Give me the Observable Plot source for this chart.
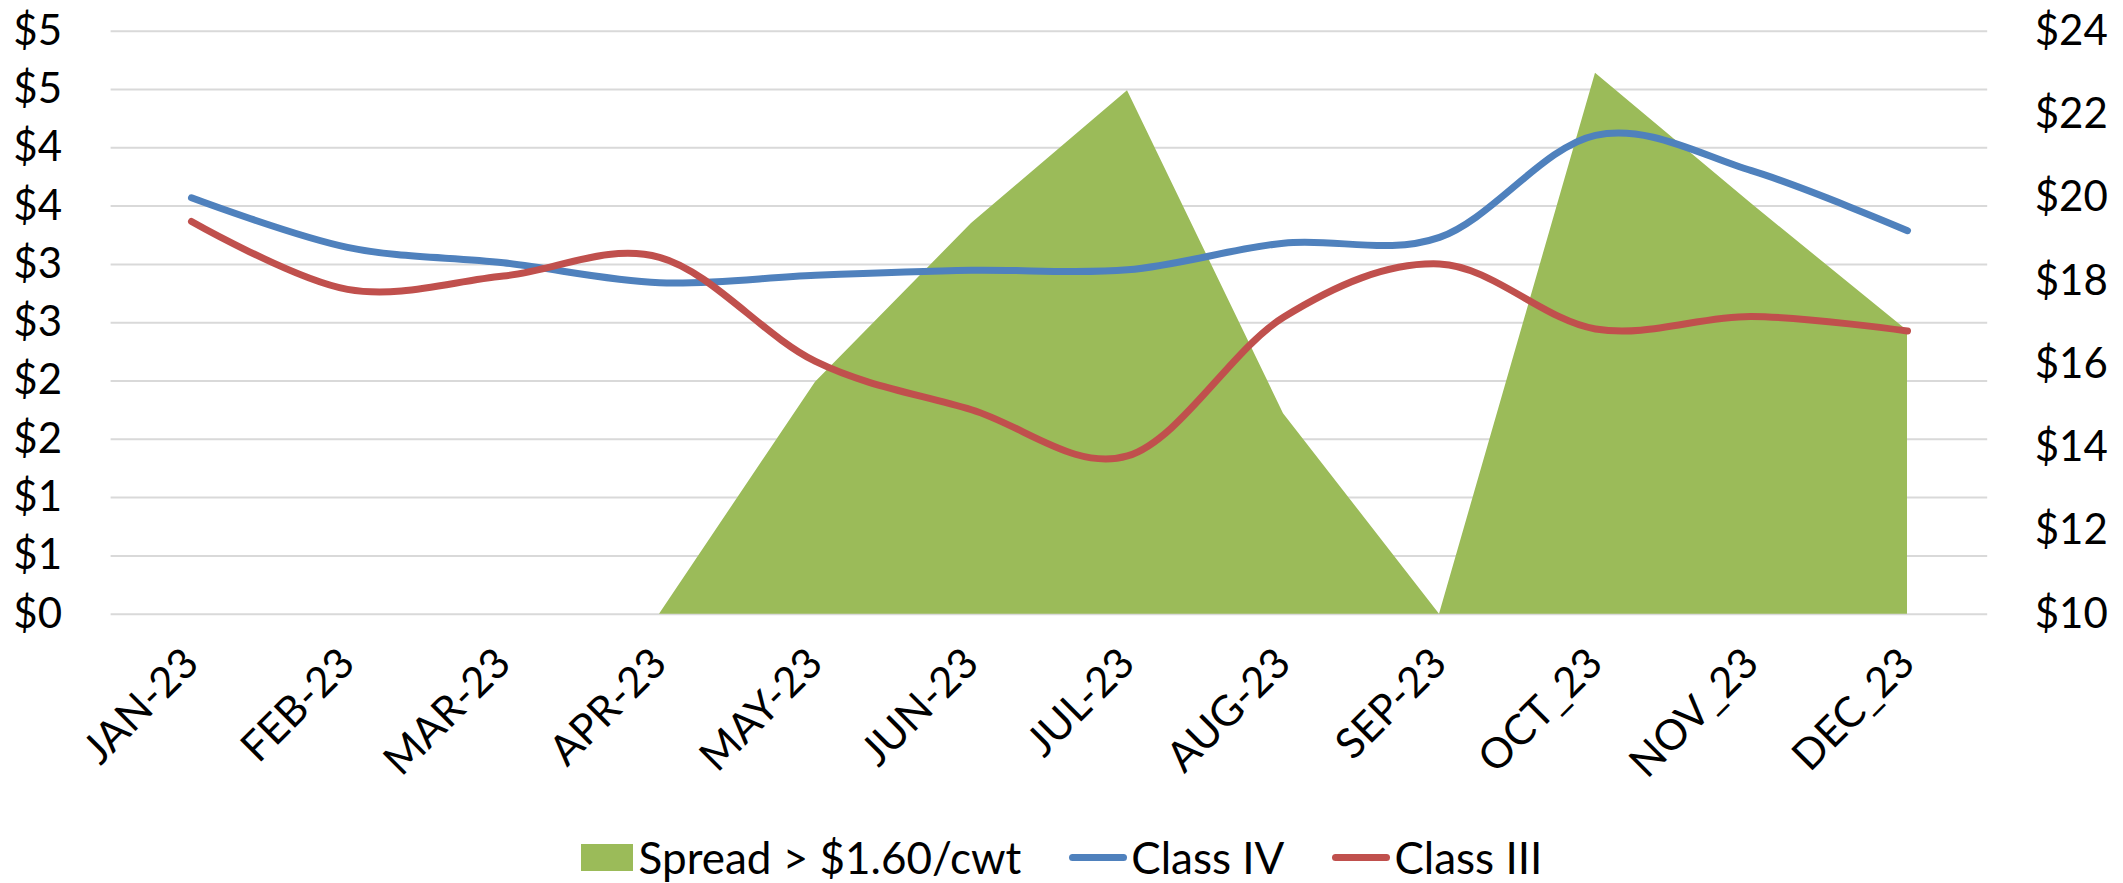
<!DOCTYPE html>
<html>
<head>
<meta charset="utf-8">
<script src="https://cdn.jsdelivr.net/npm/d3@7"></script>
<script src="https://cdn.jsdelivr.net/npm/@observablehq/plot@0.6"></script>
<style>
  html, body { margin: 0; padding: 0; background: #fff; }
  body { width: 2123px; height: 883px; overflow: hidden; font-family: Lato, "Open Sans", sans-serif; }
  #legend { height: 73px; box-sizing: border-box; padding-top: 21px; display: flex; justify-content: center; align-items: center; font-size: 44px; color: #000; }
  .item { display: flex; align-items: center; margin: 0 24px; }
  .sq { width: 52px; height: 27px; margin-right: 6px; }
  .ln { width: 58px; height: 7px; border-radius: 3.5px; margin-right: 4px; }
</style>
</head>
<body>
<div id="chart"></div>
<div id="legend"></div>
<script>
// ---- data ----
const months = ["JAN-23","FEB-23","MAR-23","APR-23","MAY-23","JUN-23","JUL-23","AUG-23","SEP-23","OCT_23","NOV_23","DEC_23"];
const spread = [0, 0, 0, 0, 1.99, 3.35, 4.49, 1.72, 0, 4.64, 3.52, 2.43];          // left axis
const classIV = [20.00, 18.81, 18.44, 17.96, 18.14, 18.26, 18.27, 18.91, 19.05, 21.50, 20.65, 19.21]; // right axis
const classIII = [19.43, 17.80, 18.12, 18.57, 16.07, 14.91, 13.80, 17.13, 18.41, 16.85, 17.15, 16.80]; // right axis
const leftTicks = [0, 0.5, 1, 1.5, 2, 2.5, 3, 3.5, 4, 4.5, 5];
const leftLabels = ["$0","$1","$1","$2","$2","$3","$3","$4","$4","$5","$5"];
const rightTicks = [10, 12, 14, 16, 18, 20, 22, 24];
const rightLabels = ["$10","$12","$14","$16","$18","$20","$22","$24"];
const seriesNames = ["Spread > $1.60/cwt", "Class IV", "Class III"];
const colors = ["#9BBB59", "#4F81BD", "#C0504D"];

// ---- dual axis mapping: right domain [10,24] onto left domain [0,5] ----
const rMin = 10, rMax = 24, lMax = 5;
const toLeft = v => (v - rMin) / (rMax - rMin) * lMax;

const rows = months.map((m, i) => ({month: m, spread: spread[i], classIV: classIV[i], classIII: classIII[i]}));
const leftMap = new Map(leftTicks.map((t, i) => [t, leftLabels[i]]));
const rightPos = rightTicks.map(toLeft);
const rightMap = new Map(rightPos.map((t, i) => [t, rightLabels[i]]));

const chart = Plot.plot({
  width: 2123,
  height: 810,
  marginLeft: 110.6,
  marginRight: 135.8,
  marginTop: 30.7,
  marginBottom: 196.3,
  style: {fontFamily: "Lato, 'Open Sans', sans-serif", fontSize: "42px", background: "#fff", color: "#000", overflow: "visible"},
  x: {type: "point", domain: months, padding: 0.5},
  y: {domain: [0, lMax]},
  marks: [
    Plot.ruleY(leftTicks, {stroke: "#D9D9D9", strokeWidth: 2, strokeOpacity: 1}),
    Plot.areaY(rows, {x: "month", y: "spread", fill: colors[0], fillOpacity: 1}),
    Plot.lineY(rows, {x: "month", y: d => toLeft(d.classIV), stroke: colors[1], strokeWidth: 7, curve: "cardinal", tension: 0, strokeLinecap: "round", strokeLinejoin: "round"}),
    Plot.lineY(rows, {x: "month", y: d => toLeft(d.classIII), stroke: colors[2], strokeWidth: 7, curve: "cardinal", tension: 0, strokeLinecap: "round", strokeLinejoin: "round"}),
    Plot.axisY(leftTicks, {anchor: "left", tickSize: 0, tickPadding: 49, tickFormat: d => leftMap.get(d), fontSize: 42, label: null}),
    Plot.axisY(rightPos, {anchor: "right", tickSize: 0, tickPadding: 47, tickFormat: d => rightMap.get(d), fontSize: 42, label: null}),
    Plot.axisX({tickSize: 0, tickPadding: 42, tickRotate: -45, fontSize: 42, label: null})
  ]
});
document.getElementById("chart").appendChild(chart);

// ---- legend ----
const legend = document.getElementById("legend");
seriesNames.forEach((name, i) => {
  const item = document.createElement("div");
  item.className = "item";
  const sw = document.createElement("div");
  sw.className = i === 0 ? "sq" : "ln";
  sw.style.background = colors[i];
  const tx = document.createElement("span");
  tx.textContent = name;
  item.appendChild(sw);
  item.appendChild(tx);
  legend.appendChild(item);
});
</script>
</body>
</html>
